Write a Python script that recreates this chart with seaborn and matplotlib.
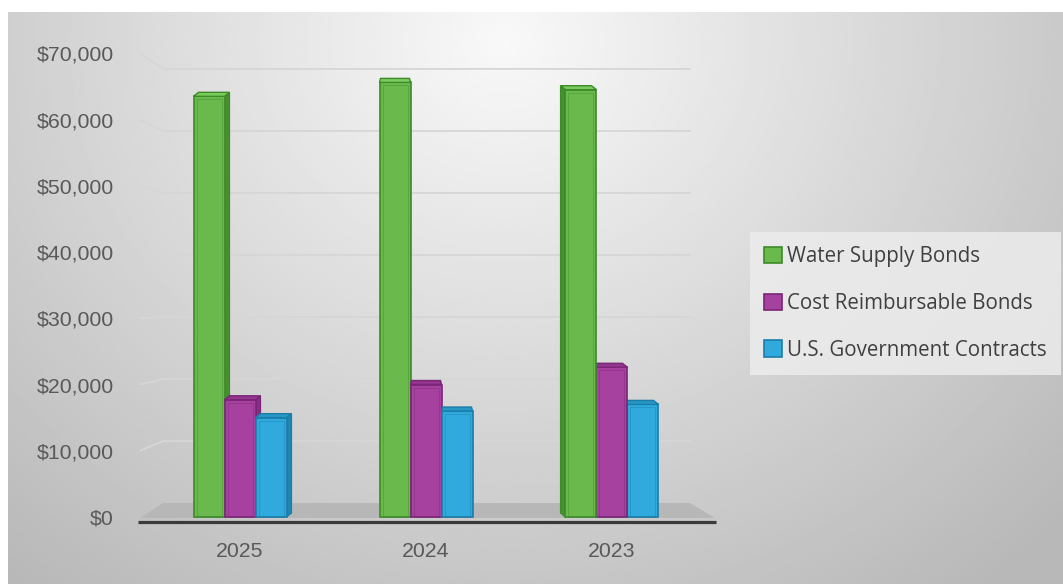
import numpy as np
import pandas as pd
import matplotlib
matplotlib.use("Agg")
import matplotlib.pyplot as plt
import seaborn as sns
from matplotlib.patches import Polygon, Rectangle, Patch
from matplotlib.ticker import FuncFormatter

# ---- data -------------------------------------------------------------
years = ["2025", "2024", "2023"]
series = ["Water Supply Bonds", "Cost Reimbursable Bonds", "U.S. Government Contracts"]
water_supply_bonds = [63500, 65600, 64500]
cost_reimbursable_bonds = [17700, 20000, 22600]
us_government_contracts = [15000, 16000, 17000]
y_ticks = [0, 10000, 20000, 30000, 40000, 50000, 60000, 70000]

df = pd.DataFrame({
    "year": years * 3,
    "series": np.repeat(series, len(years)),
    "value": water_supply_bonds + cost_reimbursable_bonds + us_government_contracts,
})

# ---- styling ----------------------------------------------------------
face_colors = ["#69b94c", "#a6419f", "#30a9dc"]
edge_colors = ["#3d8a29", "#7a2577", "#1b7ca8"]
side_colors = ["#478f32", "#83307f", "#2185b1"]
top_colors = ["#7ccb5f", "#93368e", "#2797c6"]

W, H = 1063, 584
sns.set_theme(style="white")
plt.rcParams["font.family"] = ["Liberation Sans", "DejaVu Sans"]

fig = plt.figure(figsize=(W / 100, H / 100), dpi=100)
fig.patch.set_facecolor("white")

# soft radial backdrop
bg = fig.add_axes([8 / W, 0, 1 - 8 / W, (H - 12) / H], zorder=-10)
gx, gy = np.meshgrid(np.linspace(0, 1, 400), np.linspace(0, 1, 220))
r = np.sqrt(((gx - 0.47) / 0.75) ** 2 + ((gy - 0.05) / 1.25) ** 2)
shade = np.clip(0.975 - 0.26 * r, 0.72, 0.975)
bg.imshow(shade, cmap="gray", vmin=0, vmax=1, aspect="auto",
          extent=[0, 1, 1, 0], interpolation="bilinear")
bg.set_xlim(0, 1)
bg.set_ylim(1, 0)
bg.axis("off")

# ---- plotting area ----------------------------------------------------
ax_left, ax_right, ax_top, ax_bottom = 140, 715, 40, 527
ax = fig.add_axes([ax_left / W, (H - ax_bottom) / H,
                   (ax_right - ax_left) / W, (ax_bottom - ax_top) / H])
ax.patch.set_alpha(0)

XLIM = (-0.538, 2.554)
YLIM = (-1500, 72000)
ax.set_xlim(*XLIM)
ax.set_ylim(*YLIM)
px_x = (ax_right - ax_left) / (XLIM[1] - XLIM[0])      # pixels per category unit
px_y = (ax_bottom - ax_top) / (YLIM[1] - YLIM[0])      # pixels per dollar

# back wall / floor geometry (depth projection)
depth_x = 23 / px_x
wall_base = 14 / px_y
wall_scale = 0.936
floor_front = -150

# floor
floor = Polygon([(XLIM[0], floor_front), (XLIM[1], floor_front),
                 (XLIM[1] - 25 / px_x, wall_base), (XLIM[0] + depth_x, wall_base)],
                closed=True, facecolor="#b7b7b7", edgecolor="none", zorder=0.5)
ax.add_patch(floor)
ax.plot([XLIM[0] - 0.01, XLIM[1] + 0.005], [-750, -750], color="#3a3a3a",
        lw=2.3, solid_capstyle="butt", zorder=0.6, clip_on=False)

# back-wall gridlines
for v in y_ticks[1:]:
    yb = wall_base + wall_scale * v
    ax.plot([XLIM[0], XLIM[0] + depth_x, XLIM[1] - 25 / px_x], [v, yb, yb],
            color="#d6d6d6", lw=1.3, zorder=0.4, solid_joinstyle="miter")

# ---- bars -------------------------------------------------------------
sns.barplot(data=df, x="year", y="value", hue="series", hue_order=series,
            order=years, palette=face_colors, width=0.5, saturation=1,
            legend=False, ax=ax, linewidth=1.2)
ax.set_xlim(*XLIM)
ax.set_ylim(*YLIM)

shift_px = [5, 0, -5]      # horizontal depth shift of the back face per category
rise_px = 4
for i, cont in enumerate(ax.containers):
    for j, bar in enumerate(cont.patches):
        x0 = bar.get_x()
        x1 = x0 + bar.get_width()
        h = bar.get_height()
        z = 2 + (i if j == 0 else (2 - i) if j == 2 else i) * 0.1
        bar.set_edgecolor(edge_colors[i])
        bar.set_zorder(z)
        dx = shift_px[j] / px_x
        dy = rise_px / px_y
        shrink = 1 / px_x if j == 1 else 0
        ax.add_patch(Polygon([(x0, h), (x1, h), (x1 + dx - shrink, h + dy),
                              (x0 + dx + shrink, h + dy)], closed=True,
                             facecolor=top_colors[i], edgecolor=edge_colors[i],
                             lw=1.0, zorder=z))
        if dx > 0:
            ax.add_patch(Polygon([(x1, 0), (x1, h), (x1 + dx, h + dy), (x1 + dx, dy)],
                                 closed=True, facecolor=side_colors[i],
                                 edgecolor=edge_colors[i], lw=0.8, zorder=z - 0.01))
        elif dx < 0:
            ax.add_patch(Polygon([(x0, 0), (x0, h), (x0 + dx, h + dy), (x0 + dx, dy)],
                                 closed=True, facecolor=side_colors[i],
                                 edgecolor=edge_colors[i], lw=0.8, zorder=z - 0.01))
        # inner bevel of the front face
        ix, iy = 3 / px_x, 3 / px_y
        ax.add_patch(Rectangle((x0 + ix, 0), (x1 - x0) - 2 * ix, h - iy,
                               facecolor="none", edgecolor=edge_colors[i],
                               lw=0.6, alpha=0.45, zorder=z + 0.001))

# ---- axes cosmetics ---------------------------------------------------
for s in ax.spines.values():
    s.set_visible(False)
ax.grid(False)
ax.set_xlabel("")
ax.set_ylabel("")
ax.set_yticks(y_ticks)
ax.yaxis.set_major_formatter(FuncFormatter(lambda v, _: f"${v:,.0f}"))
ax.tick_params(axis="y", length=0, pad=19, labelsize=15.3, labelcolor="#595959")
ax.tick_params(axis="x", length=0, pad=11, labelsize=15.3, labelcolor="#595959")

handles = [Patch(facecolor=face_colors[k], edgecolor=edge_colors[k], lw=1.2)
           for k in range(3)]
leg = fig.legend(handles, series, loc="upper left",
                 bbox_to_anchor=(750 / W, 1 - 232 / H), frameon=True,
                 fancybox=False, facecolor="#ececec", edgecolor="none",
                 framealpha=0.85,
                 prop={"family": ["Open Sans", "DejaVu Sans"], "size": 14.8},
                 labelcolor="#404040", handlelength=0.85, handleheight=0.85,
                 handletextpad=0.25, labelspacing=1.25, borderpad=0.7,
                 borderaxespad=0)

fig.savefig("out.png", dpi=100)
